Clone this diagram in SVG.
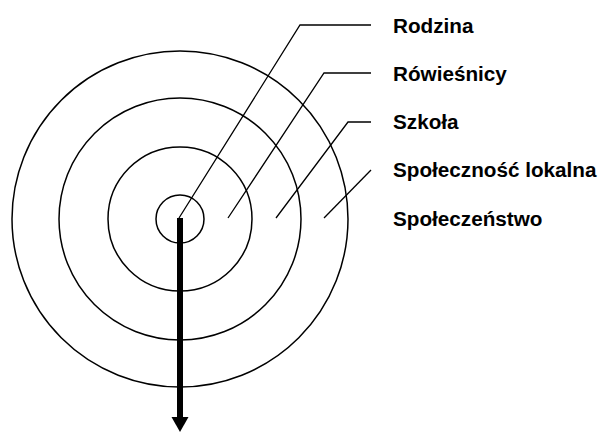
<svg xmlns="http://www.w3.org/2000/svg" width="603" height="433" viewBox="0 0 603 433">
<style>
.ring{fill:none;stroke:#000;stroke-width:1.5}
.lead{fill:none;stroke:#000;stroke-width:1.3}
.lbl{font-family:"Liberation Sans",Arial,sans-serif;font-weight:bold;font-size:20.7px;fill:#000}
</style>
<rect width="603" height="433" fill="#fff"/>
<g id="rings">
<circle id="ring-spoleczenstwo" class="ring" cx="180" cy="219" r="168"/>
<circle id="ring-lokalna" class="ring" cx="180" cy="219" r="121"/>
<circle id="ring-szkola" class="ring" cx="180" cy="219" r="72"/>
<circle id="ring-rodzina" class="ring" cx="180" cy="219" r="24"/>
</g>
<g id="connectors">
<polyline class="lead" points="179,218 300,25 371,25"/>
<polyline class="lead" points="228,218 324,73 371,73"/>
<polyline class="lead" points="276,218 348,122 371,122"/>
<line class="lead" x1="324" y1="218" x2="371" y2="170"/>
<line x1="180" y1="218" x2="180" y2="418" stroke="#000" stroke-width="6"/>
<polygon points="171.5,417 188.5,417 180,432" fill="#000"/>
</g>
<g id="labels">
<text class="lbl" x="393" y="33">Rodzina</text>
<text class="lbl" x="393" y="81">Rówieśnicy</text>
<text class="lbl" x="393" y="129">Szkoła</text>
<text class="lbl" x="393" y="177">Społeczność lokalna</text>
<text class="lbl" x="393" y="226">Społeczeństwo</text>
</g>
</svg>
